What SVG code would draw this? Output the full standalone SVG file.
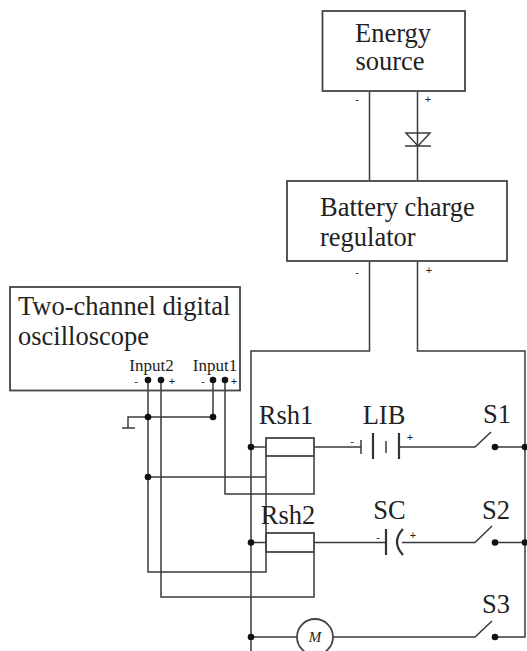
<svg xmlns="http://www.w3.org/2000/svg" width="527" height="651" viewBox="0 0 527 651">
<style>
.w{fill:none;stroke:#3a3a3a;stroke-width:1.5}
.b{fill:#fff;stroke:#444;stroke-width:1.8}
.d{fill:#111}
text{font-family:"Liberation Serif","Times New Roman",serif;fill:#222}
.l{font-size:26.500px}
.m{font-size:26.500px;text-anchor:middle}
.s{font-size:17px;text-anchor:middle}
.p{font-size:11px;text-anchor:middle;font-family:"Liberation Sans",Arial,sans-serif}
</style>
<rect width="527" height="651" fill="#fff"/>
<g id="connectors">
<path class="w" d="M369.500 91V181M417.500 91V181M417.500 261V351H525V637H495M369.500 261V351H251V651"/>
<path class="w" d="M406 133H430L418 146ZM405 146H431"/>
<path class="w" d="M148 380V572H266V456M161 380V597H314V552M213 380V417M225 380V494H314V456M128 428V417H213M122 428H135M148 477H266"/>
<path class="w" d="M251 447H266M314 447H361M399 447H475L491 432M495 447H525"/>
<path class="w" d="M251 542.500H266M314 542.500H386M402 542.500H475L492 526M495 542.500H525"/>
<path class="w" d="M251 637H297M333 637H475L492 621"/>
<path class="w" d="M361 440V454M386 441V453"/>
<path d="M373 433V459M399 433V459M386 529V555" fill="none" stroke="#333" stroke-width="2.200"/>
<path d="M403 529Q391 542 403 555" fill="none" stroke="#333" stroke-width="2.200"/>
<g class="d">
<circle cx="148" cy="417" r="3.300"/><circle cx="213" cy="417" r="3.300"/><circle cx="148" cy="477" r="3.300"/>
<circle cx="251" cy="447" r="3.300"/><circle cx="251" cy="542.500" r="3.300"/><circle cx="251" cy="637" r="3.300"/>
<circle cx="495" cy="447" r="3.300"/><circle cx="495" cy="542.500" r="3.300"/><circle cx="495" cy="637" r="3.300"/>
<circle cx="525" cy="447" r="3.300"/><circle cx="525" cy="542.500" r="3.300"/>
</g>
</g>
<g id="energy-source">
<rect class="b" x="322.500" y="11" width="142.500" height="80"/>
<text class="m" x="393" y="42">Energy</text>
<text class="m" x="390" y="70">source</text>
<text class="p" x="357" y="103">-</text>
<text class="p" x="428" y="103">+</text>
</g>
<g id="battery-charge-regulator">
<rect class="b" x="287" y="181" width="220" height="80"/>
<text class="l" x="320" y="216">Battery charge</text>
<text class="l" x="320" y="246">regulator</text>
<text class="p" x="357" y="276">-</text>
<text class="p" x="429" y="274">+</text>
</g>
<g id="oscilloscope">
<rect class="b" style="fill:none" x="10" y="287" width="230" height="103.500"/>
<text class="l" x="18" y="315">Two-channel digital</text>
<text class="l" x="18" y="345">oscilloscope</text>
<text class="s" x="151.500" y="371">Input2</text>
<text class="s" x="215" y="371">Input1</text>
<text class="p" x="136" y="385">-</text>
<text class="p" x="172" y="385">+</text>
<text class="p" x="203" y="385">-</text>
<text class="p" x="234" y="385">+</text>
<circle class="d" cx="148" cy="380" r="3.300"/><circle class="d" cx="161" cy="380" r="3.300"/><circle class="d" cx="213" cy="380" r="3.300"/><circle class="d" cx="225" cy="380" r="3.300"/>
</g>
<g id="rsh1">
<rect class="b" style="fill:none" x="266" y="438" width="48" height="18"/>
<text class="m" x="286" y="424">Rsh1</text>
</g>
<g id="lib">
<text class="m" x="384" y="424">LIB</text>
<text class="p" x="352" y="445">-</text>
<text class="p" x="410" y="441">+</text>
</g>
<g id="s1"><text class="m" x="497" y="423">S1</text></g>
<g id="rsh2">
<rect class="b" style="fill:none" x="266" y="533" width="48" height="19"/>
<text class="m" x="288" y="524">Rsh2</text>
</g>
<g id="sc">
<text class="m" x="389.500" y="519">SC</text>
<text class="p" x="378" y="541">-</text>
<text class="p" x="413" y="539">+</text>
</g>
<g id="s2"><text class="m" x="496" y="519">S2</text></g>
<g id="motor">
<circle class="b" cx="315" cy="637" r="18"/>
<text x="315" y="642" style="font-size:15px;font-style:italic;text-anchor:middle">M</text>
</g>
<g id="s3"><text class="m" x="496" y="613">S3</text></g>
</svg>
